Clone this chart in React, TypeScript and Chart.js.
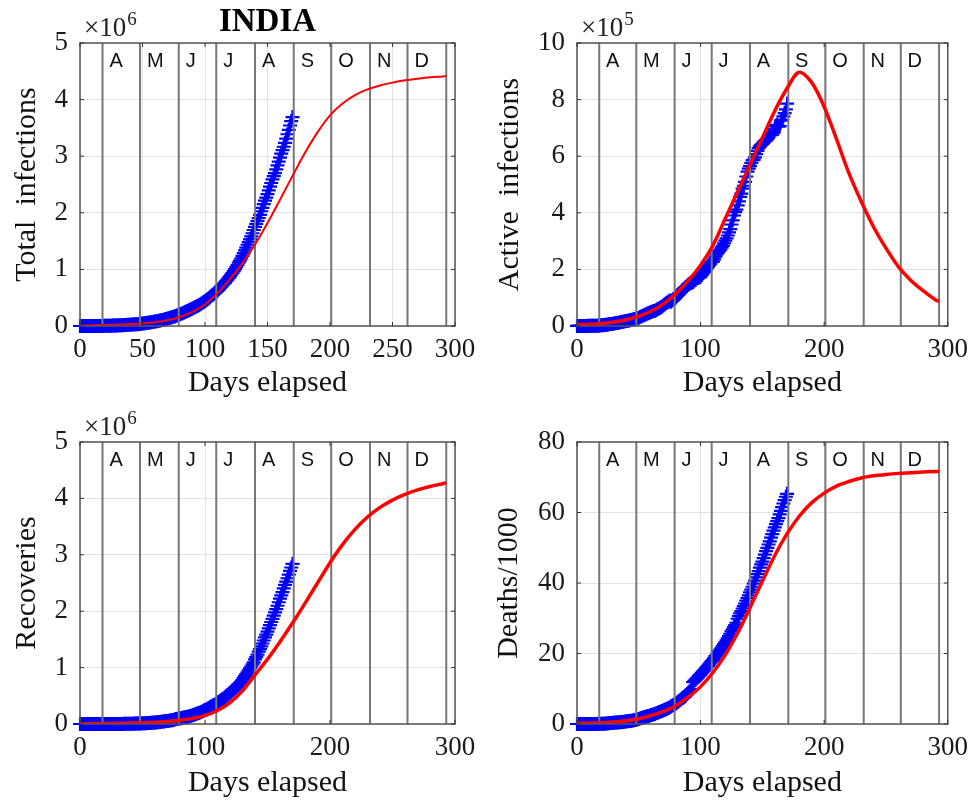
import React, { useEffect, useRef } from "react";
import { Chart, registerables } from "chart.js";

Chart.register(...registerables);

// ---- Data: one point per day elapsed since 14 March 2020 ----
const dataDays = [
  0, 1, 2, 3, 4, 5, 6, 7, 8, 9,
  10, 11, 12, 13, 14, 15, 16, 17, 18, 19,
  20, 21, 22, 23, 24, 25, 26, 27, 28, 29,
  30, 31, 32, 33, 34, 35, 36, 37, 38, 39,
  40, 41, 42, 43, 44, 45, 46, 47, 48, 49,
  50, 51, 52, 53, 54, 55, 56, 57, 58, 59,
  60, 61, 62, 63, 64, 65, 66, 67, 68, 69,
  70, 71, 72, 73, 74, 75, 76, 77, 78, 79,
  80, 81, 82, 83, 84, 85, 86, 87, 88, 89,
  90, 91, 92, 93, 94, 95, 96, 97, 98, 99,
  100, 101, 102, 103, 104, 105, 106, 107, 108, 109,
  110, 111, 112, 113, 114, 115, 116, 117, 118, 119,
  120, 121, 122, 123, 124, 125, 126, 127, 128, 129,
  130, 131, 132, 133, 134, 135, 136, 137, 138, 139,
  140, 141, 142, 143, 144, 145, 146, 147, 148, 149,
  150, 151, 152, 153, 154, 155, 156, 157, 158, 159,
  160, 161, 162, 163, 164, 165, 166, 167, 168, 169,
  170,
];

// thousands
const totalInfections = [
  0.1, 0.11, 0.13, 0.15, 0.17, 0.2, 0.26, 0.33, 0.4, 0.5,
  0.54, 0.66, 0.73, 0.89, 0.99, 1.02, 1.25, 1.4, 2.0, 2.54,
  2.57, 3.08, 3.59, 4.78, 5.31, 5.92, 6.73, 7.6, 8.45, 9.21,
  10.45, 11.49, 12.32, 13.43, 14.35, 15.72, 17.62, 18.54, 20.08, 21.37,
  23.08, 24.53, 26.28, 27.89, 29.45, 31.32, 33.06, 34.86, 37.26, 39.7,
  42.5, 46.44, 49.4, 52.99, 56.35, 59.7, 62.81, 67.16, 70.77, 74.29,
  78.06, 82.0, 85.78, 90.65, 95.7, 100.3, 106.5, 112.0, 118.2, 124.8,
  131.4, 138.5, 145.0, 150.8, 158.1, 165.4, 173.5, 181.8, 190.6, 198.4,
  207.2, 216.8, 226.7, 236.2, 246.6, 257.5, 265.9, 276.1, 286.6, 297.5,
  309.0, 320.9, 332.4, 343.1, 354.1, 367.3, 380.5, 395.0, 410.5, 425.3,
  440.2, 456.2, 473.1, 490.4, 509.0, 528.9, 548.3, 566.8, 585.5, 604.6,
  625.5, 648.3, 673.2, 697.4, 719.7, 742.4, 767.3, 793.8, 820.9, 849.6,
  878.3, 906.8, 936.2, 968.9, 1003.8, 1038.7, 1077.6, 1118.0, 1155.2, 1193.1,
  1238.6, 1288.1, 1337.0, 1385.5, 1435.5, 1483.2, 1531.7, 1583.8, 1638.9, 1696.0,
  1750.7, 1803.7, 1855.7, 1908.3, 1964.5, 2027.1, 2088.6, 2153.0, 2215.1, 2268.7,
  2329.6, 2396.6, 2461.2, 2526.2, 2589.7, 2647.7, 2702.7, 2767.3, 2836.9, 2905.8,
  2975.7, 3044.9, 3106.3, 3167.3, 3234.5, 3310.2, 3387.5, 3464.0, 3542.7, 3621.2,
  3691.2,
];

// thousands
const activeInfections = [
  0.09, 0.1, 0.11, 0.13, 0.15, 0.18, 0.23, 0.3, 0.37, 0.45,
  0.49, 0.6, 0.66, 0.8, 0.88, 0.9, 1.12, 1.23, 1.79, 2.31,
  2.3, 2.78, 3.22, 4.31, 4.74, 5.22, 6.0, 6.7, 7.41, 7.87,
  9.05, 9.84, 10.41, 11.21, 11.87, 12.91, 14.2, 14.76, 15.47, 16.4,
  17.36, 18.7, 19.56, 20.47, 21.51, 22.63, 23.58, 24.64, 26.03, 27.78,
  29.31, 32.14, 33.61, 35.87, 37.66, 39.86, 41.3, 44.05, 45.98, 47.48,
  49.26, 51.4, 52.74, 53.95, 55.87, 58.8, 60.86, 63.62, 66.18, 69.24,
  73.14, 76.82, 80.28, 83.0, 85.88, 89.99, 86.11, 89.99, 93.32, 97.58,
  101.1, 106.7, 110.9, 115.9, 120.4, 126.0, 129.2, 133.7, 137.5, 141.8,
  145.8, 149.3, 153.1, 153.2, 155.2, 160.4, 163.2, 168.3, 169.5, 171.9,
  174.4, 180.5, 186.5, 191.9, 197.4, 203.5, 210.1, 215.1, 220.1, 226.9,
  227.4, 235.4, 244.8, 253.3, 259.6, 264.9, 269.8, 276.7, 283.4, 292.3,
  301.6, 309.6, 319.8, 331.1, 342.5, 358.7, 373.4, 390.5, 402.5, 411.1,
  426.2, 440.1, 456.1, 467.9, 485.1, 495.5, 509.4, 528.2, 545.3, 556.0,
  565.1, 576.0, 585.5, 587.7, 595.5, 607.4, 619.1, 628.7, 634.9, 639.9,
  643.9, 648.8, 653.6, 657.4, 661.6, 666.9, 673.2, 676.9, 676.5, 684.1,
  697.3, 707.3, 710.8, 704.3, 706.0, 725.9, 728.3, 741.0, 752.4, 765.3,
  785.9,
];

// thousands
const recoveries = [
  0.01, 0.012, 0.013, 0.014, 0.014, 0.016, 0.02, 0.023, 0.023, 0.035,
  0.04, 0.043, 0.045, 0.066, 0.08, 0.095, 0.1, 0.124, 0.15, 0.163,
  0.19, 0.23, 0.27, 0.33, 0.42, 0.47, 0.5, 0.65, 0.76, 0.96,
  1.04, 1.25, 1.49, 1.77, 2.0, 2.29, 2.85, 3.26, 3.96, 4.26,
  5.0, 5.06, 5.9, 6.52, 7.0, 7.75, 8.4, 9.07, 10.0, 10.6,
  11.8, 12.73, 14.1, 15.33, 16.8, 17.85, 19.4, 20.9, 22.5, 24.4,
  26.2, 27.9, 30.3, 34.1, 36.8, 39.2, 42.3, 45.3, 48.5, 51.8,
  54.4, 57.7, 60.5, 64.4, 67.7, 71.1, 82.4, 86.9, 91.8, 95.5,
  100.3, 104.1, 109.5, 114.1, 119.3, 124.4, 129.2, 134.7, 141.0, 147.2,
  154.3, 162.4, 169.8, 180.0, 186.9, 194.3, 204.7, 213.8, 227.8, 237.2,
  248.2, 258.7, 271.7, 285.6, 295.9, 309.7, 321.7, 334.8, 347.9, 359.9,
  379.9, 394.2, 409.1, 424.4, 439.9, 456.8, 476.4, 495.5, 515.4, 534.6,
  553.5, 571.5, 592.0, 612.8, 636.6, 653.8, 677.4, 700.1, 724.6, 753.0,
  782.6, 817.2, 849.4, 885.6, 917.6, 952.7, 988.0, 1019.7, 1057.8, 1094.4,
  1145.6, 1186.2, 1230.5, 1282.2, 1328.3, 1378.1, 1427.0, 1480.9, 1535.7, 1583.5,
  1639.6, 1695.9, 1751.6, 1808.9, 1862.3, 1919.8, 1977.8, 2037.9, 2096.7, 2158.9,
  2222.6, 2280.6, 2338.0, 2404.6, 2467.8, 2523.8, 2583.9, 2648.9, 2713.9, 2774.8,
  2839.9,
];

// thousands
const deaths = [
  0.002, 0.002, 0.002, 0.003, 0.003, 0.004, 0.004, 0.007, 0.007, 0.01,
  0.011, 0.013, 0.02, 0.02, 0.024, 0.027, 0.035, 0.041, 0.058, 0.072,
  0.075, 0.086, 0.1, 0.124, 0.15, 0.178, 0.23, 0.249, 0.29, 0.331,
  0.36, 0.393, 0.42, 0.448, 0.48, 0.521, 0.559, 0.592, 0.652, 0.686,
  0.72, 0.779, 0.826, 0.886, 0.939, 1.008, 1.079, 1.154, 1.223, 1.323,
  1.391, 1.568, 1.694, 1.783, 1.886, 1.981, 2.109, 2.206, 2.293, 2.415,
  2.549, 2.649, 2.753, 2.872, 3.029, 3.156, 3.302, 3.435, 3.583, 3.72,
  3.867, 4.021, 4.167, 4.337, 4.531, 4.706, 4.971, 5.164, 5.408, 5.608,
  5.829, 6.088, 6.363, 6.649, 6.946, 7.207, 7.473, 7.75, 8.107, 8.498,
  8.88, 9.19, 9.52, 9.9, 11.9, 12.24, 12.57, 12.95, 13.25, 13.7,
  14.01, 14.48, 14.89, 15.3, 15.69, 16.1, 16.48, 16.89, 17.4, 17.83,
  18.21, 18.66, 19.27, 19.69, 20.16, 20.64, 21.13, 21.6, 22.12, 22.67,
  23.17, 23.73, 24.31, 24.92, 25.6, 26.27, 26.82, 27.5, 28.08, 28.73,
  29.86, 30.6, 31.36, 32.06, 32.77, 33.43, 34.19, 35.0, 35.75, 36.51,
  37.36, 38.14, 38.94, 39.8, 40.7, 41.59, 42.52, 43.38, 44.39, 45.26,
  46.09, 47.03, 48.04, 49.04, 49.98, 50.92, 51.8, 52.89, 53.87, 54.85,
  55.79, 56.71, 57.54, 58.39, 59.45, 60.47, 61.53, 62.55, 63.5, 64.47,
  65.29,
];

// ---- Model curves (red) ----
const modelDays = [
  0, 10, 20, 30, 40, 50, 60, 70, 80, 90,
  100, 110, 120, 130, 140, 150, 160, 170, 180, 190,
  200, 210, 220, 230, 240, 250, 260, 270, 280, 290, 293,
];
const modelTotal = [
  8, 12, 18, 26, 34, 45, 65, 100, 160, 250,
  380, 580, 830, 1110, 1440, 1820, 2230, 2650, 3060, 3420,
  3720, 3930, 4080, 4180, 4250, 4300, 4340, 4370, 4395, 4410, 4415,
];
const modelActive = [
  5, 6, 9, 14, 22, 35, 52, 78, 114, 160,
  215, 285, 380, 475, 570, 665, 760, 840, 897, 860,
  775, 660, 540, 440, 350, 275, 210, 162, 125, 93, 86,
];
const modelRecoveries = [
  5, 7, 9, 12, 16, 22, 32, 45, 65, 100,
  150, 240, 380, 590, 870, 1150, 1460, 1790, 2140, 2500,
  2860, 3180, 3450, 3670, 3840, 3970, 4070, 4150, 4210, 4260, 4275,
];
const modelDeaths = [
  0.2, 0.25, 0.35, 0.55, 0.9, 1.5, 2.4, 3.6, 5.2, 7.6,
  10.6, 14.6, 19.6, 25.8, 33, 40.5, 47.8, 54, 59, 62.8,
  65.5, 67.5, 68.8, 69.8, 70.4, 70.8, 71.1, 71.3, 71.5, 71.6, 71.6,
];

// ---- Month markers ----
const monthStarts = [18, 48, 79, 109, 140, 171, 201, 232, 262, 293];
const monthLetters = ["A", "M", "J", "J", "A", "S", "O", "N", "D"];
const monthLabelOffset = 5.5;

const SERIF = '"Liberation Serif", "Times New Roman", serif';
const SANS = '"Liberation Sans", Arial, sans-serif';

type Panel = {
  left: number;
  top: number;
  w: number;
  h: number;
  area: { l: number; r: number; t: number; b: number };
  yMax: number;
  yStep: number;
  yDiv: number;
  exp: string | null;
  yTitle: string;
  yTitlePad: number;
  xTitlePad: number;
  xStep: number;
  data: number[];
  model: number[];
  modelWidth: number;
  title?: string;
};

const panels: Panel[] = [
  {
    left: 0, top: 0, w: 488, h: 401,
    area: { l: 80, r: 455, t: 43, b: 326 },
    yMax: 5000, yStep: 1000, yDiv: 1000, exp: "6",
    yTitle: "Total  infections", yTitlePad: 9, xTitlePad: 0, xStep: 50,
    data: totalInfections, model: modelTotal, modelWidth: 2, title: "INDIA",
  },
  {
    left: 488, top: 0, w: 488, h: 401,
    area: { l: 89, r: 463, t: 43, b: 326 },
    yMax: 1000, yStep: 200, yDiv: 100, exp: "5",
    yTitle: "Active  infections", yTitlePad: 4, xTitlePad: 0, xStep: 100,
    data: activeInfections, model: modelActive, modelWidth: 3.5,
  },
  {
    left: 0, top: 401, w: 488, h: 401,
    area: { l: 80, r: 455, t: 41, b: 323 },
    yMax: 5000, yStep: 1000, yDiv: 1000, exp: "6",
    yTitle: "Recoveries", yTitlePad: 9, xTitlePad: 1, xStep: 100,
    data: recoveries, model: modelRecoveries, modelWidth: 3.5,
  },
  {
    left: 488, top: 401, w: 488, h: 401,
    area: { l: 89, r: 463, t: 41, b: 323 },
    yMax: 80, yStep: 20, yDiv: 1, exp: null,
    yTitle: "Deaths/1000", yTitlePad: 3, xTitlePad: 1, xStep: 100,
    data: deaths, model: modelDeaths, modelWidth: 3.5,
  },
];

const panelDecor = {
  id: "panelDecor",
  beforeDatasetDraw(chart: any, args: any) {
    if (args.index !== 0) return;
    const { ctx, chartArea: a } = chart;
    const x = chart.scales.x;
    ctx.save();
    ctx.strokeStyle = "#777777";
    ctx.lineWidth = 2;
    for (const d of monthStarts) {
      const px = x.getPixelForValue(d);
      ctx.beginPath();
      ctx.moveTo(px, a.top);
      ctx.lineTo(px, a.bottom);
      ctx.stroke();
    }
    ctx.restore();
  },
  afterDatasetsDraw(chart: any, _args: any, opts: any) {
    const { ctx, chartArea: a } = chart;
    const x = chart.scales.x;
    const y = chart.scales.y;
    ctx.save();
    ctx.strokeStyle = "#555555";
    ctx.lineWidth = 1.5;
    ctx.strokeRect(a.left, a.top, a.right - a.left, a.bottom - a.top);
    ctx.strokeStyle = "#333333";
    ctx.lineWidth = 1;
    for (const t of y.ticks) {
      const py = y.getPixelForValue(t.value);
      ctx.beginPath();
      ctx.moveTo(a.left, py);
      ctx.lineTo(a.left + 4, py);
      ctx.moveTo(a.right, py);
      ctx.lineTo(a.right - 4, py);
      ctx.stroke();
    }
    for (const t of x.ticks) {
      const px = x.getPixelForValue(t.value);
      ctx.beginPath();
      ctx.moveTo(px, a.bottom);
      ctx.lineTo(px, a.bottom - 4);
      ctx.moveTo(px, a.top);
      ctx.lineTo(px, a.top + 4);
      ctx.stroke();
    }
    ctx.font = `20px ${SANS}`;
    ctx.fillStyle = "#111111";
    ctx.textAlign = "left";
    ctx.textBaseline = "middle";
    monthLetters.forEach((m, i) => {
      ctx.fillText(m, x.getPixelForValue(monthStarts[i] + monthLabelOffset), a.top + 18);
    });
    if (opts && opts.exp) {
      ctx.fillStyle = "#222222";
      ctx.textBaseline = "alphabetic";
      ctx.font = `27px ${SERIF}`;
      const base = "×10";
      ctx.fillText(base, a.left + 4, a.top - 7);
      const w = ctx.measureText(base).width;
      ctx.font = `19px ${SERIF}`;
      ctx.fillText(opts.exp, a.left + 4 + w + 1, a.top - 18);
    }
    ctx.restore();
  },
};

function buildConfig(p: Panel): any {
  const tickFont = { family: SERIF, size: 27 };
  const titleFont = { family: SERIF, size: 30 };
  return {
    type: "line",
    data: {
      datasets: [
        {
          label: "Model",
          data: modelDays.map((d, i) => ({ x: d, y: p.model[i] })),
          borderColor: "#ff0000",
          borderWidth: p.modelWidth,
          pointRadius: 0,
          cubicInterpolationMode: "monotone",
          fill: false,
        },
        {
          label: "Data",
          data: dataDays.map((d, i) => ({ x: d, y: p.data[i] })),
          showLine: false,
          pointStyle: "cross",
          pointRadius: 7,
          pointBorderWidth: 2.2,
          pointBorderColor: "#0000ff",
          pointBackgroundColor: "#0000ff",
          clip: false,
        },
      ],
    },
    options: {
      animation: false,
      responsive: false,
      events: [],
      layout: {
        padding: {
          left: 0,
          right: p.w - p.area.r,
          top: p.title ? 0 : p.area.t,
          bottom: 0,
        },
      },
      plugins: {
        legend: { display: false },
        tooltip: { enabled: false },
        title: p.title
          ? {
              display: true,
              text: p.title,
              fullSize: false,
              color: "#000000",
              font: { family: SERIF, size: 33, weight: "bold" },
              padding: { top: 3, bottom: 0.4 },
            }
          : { display: false },
        panelDecor: { exp: p.exp },
      },
      scales: {
        x: {
          type: "linear",
          min: 0,
          max: 300,
          ticks: {
            stepSize: p.xStep,
            padding: 8,
            maxRotation: 0,
            autoSkip: false,
            font: tickFont,
            color: "#1a1a1a",
          },
          grid: { color: "#e2e2e2", lineWidth: 1, drawTicks: false },
          border: { display: false },
          title: {
            display: true,
            text: "Days elapsed",
            color: "#111111",
            font: titleFont,
            padding: { top: 0, bottom: p.xTitlePad },
          },
          afterFit: (s: any) => {
            s.height = p.h - p.area.b;
          },
        },
        y: {
          type: "linear",
          min: 0,
          max: p.yMax,
          ticks: {
            stepSize: p.yStep,
            padding: 12,
            font: tickFont,
            color: "#1a1a1a",
            callback: (v: any) => String(Math.round((v / p.yDiv) * 100) / 100),
          },
          grid: { color: "#e2e2e2", lineWidth: 1, drawTicks: false },
          border: { display: false },
          title: {
            display: true,
            text: p.yTitle,
            color: "#111111",
            font: titleFont,
            padding: { top: p.yTitlePad, bottom: 0 },
          },
          afterFit: (s: any) => {
            s.width = p.area.l;
          },
        },
      },
    },
    plugins: [panelDecor],
  };
}

function PanelChart({ p }: { p: Panel }) {
  const ref = useRef<HTMLCanvasElement>(null);
  useEffect(() => {
    if (!ref.current) return;
    const chart = new Chart(ref.current, buildConfig(p));
    return () => chart.destroy();
  }, [p]);
  return (
    <canvas
      ref={ref}
      width={p.w}
      height={p.h}
      style={{ position: "absolute", left: p.left, top: p.top }}
    />
  );
}

export default function App() {
  return (
    <div
      style={{
        position: "absolute",
        left: 0,
        top: 0,
        width: 976,
        height: 802,
        background: "#ffffff",
        overflow: "hidden",
      }}
    >
      {panels.map((p, i) => (
        <PanelChart key={i} p={p} />
      ))}
    </div>
  );
}
